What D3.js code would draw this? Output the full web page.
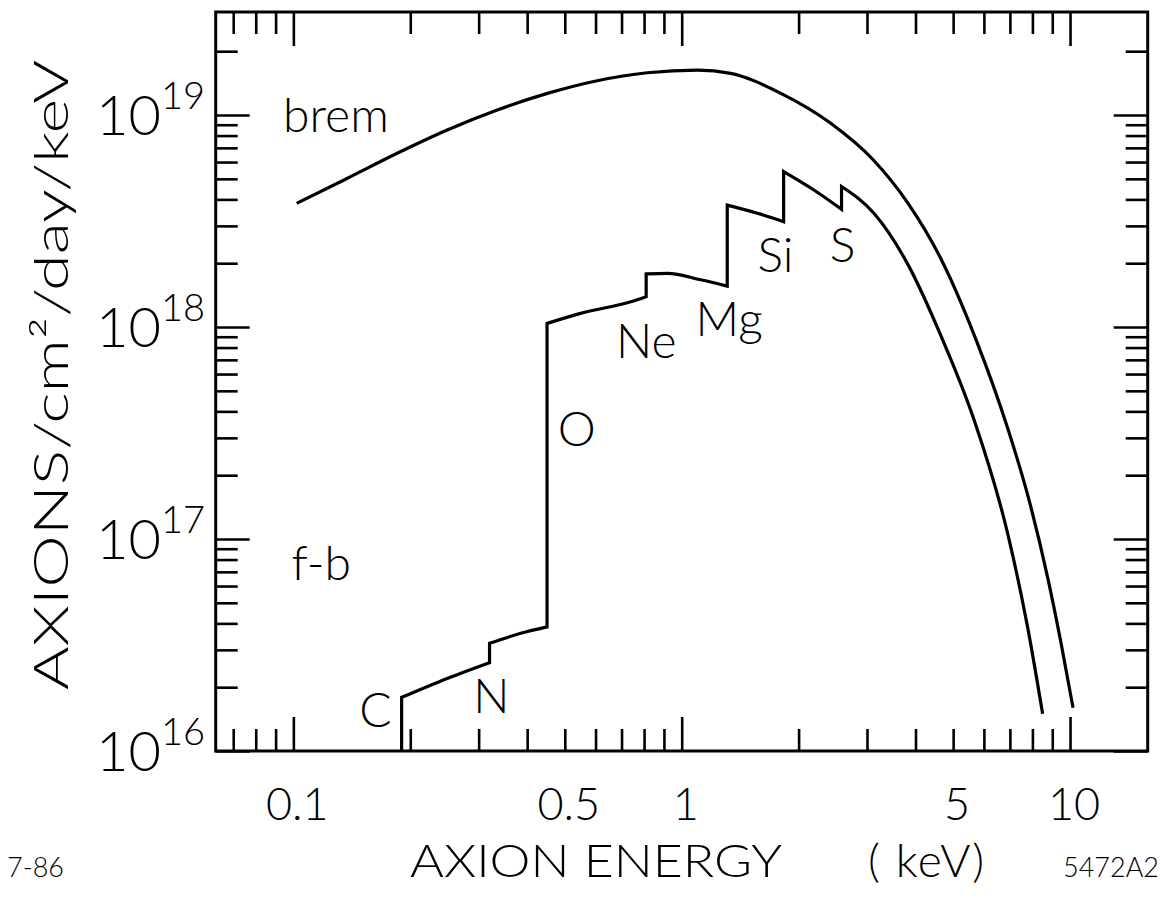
<!DOCTYPE html>
<html><head><meta charset="utf-8">
<script src="https://cdn.jsdelivr.net/npm/d3@7"></script>
<style>
body{margin:0;background:#fff}
text{font-family:Lato,"Open Sans","DejaVu Sans",sans-serif;fill:#000;font-weight:300}
</style>
</head><body>
<svg id="chart" width="1167" height="908"></svg>
<script>
// ---------- data ----------
const xMajor = [0.1, 1, 10];
const xMinor = [0.07,0.08,0.09,0.2,0.3,0.4,0.5,0.6,0.7,0.8,0.9,2,3,4,5,6,7,8,9];
const xLabelValues = [0.1, 0.5, 1, 5, 10];
const xLabelTexts  = ["0.1", "0.5", "1", "5", "10"];
const yMajor = [1e16, 1e17, 1e18, 1e19];
const yMinor = [2e16,3e16,4e16,5e16,6e16,7e16,8e16,9e16,
                2e17,3e17,4e17,5e17,6e17,7e17,8e17,9e17,
                2e18,3e18,4e18,5e18,6e18,7e18,8e18,9e18,2e19];
const yLabelExponents = ["16", "17", "18", "19"];

// bremsstrahlung spectrum [keV, axions/cm2/day/keV]
const brem = [[0.102,3.83e18],[0.1375,5.02e18],[0.185,6.6e18],[0.249,8.5e18],[0.335,1.056e19],
  [0.451,1.265e19],[0.606,1.452e19],[0.816,1.583e19],[1.098,1.63e19],[1.337,1.573e19],
  [1.80,1.265e19],[2.42,9.14e18],[3.125,6.1e18],[3.82,3.85e18],[4.65,2.1e18],[5.66,9.2e17],
  [6.92,3.3e17],[7.80,1.585e17],[8.77,6.5e16],[9.48,3.23e16],[10.18,1.6e16]];

// free-bound spectrum, one smooth piece per absorption edge
const fbStart = [0.19, 1e16];
const fbC  = [[0.19,1.79e16],[0.249,2.2e16],[0.32,2.61e16]];
const fbN  = [[0.32,3.22e16],[0.385,3.59e16],[0.45,3.85e16]];
const fbO  = [[0.45,1.04e18],[0.549,1.16e18],[0.739,1.315e18],[0.81,1.39e18]];
const fbNe = [[0.81,1.78e18],[0.919,1.79e18],[1.119,1.67e18],[1.31,1.56e18]];
const fbMg = [[1.31,3.76e18],[1.567,3.44e18],[1.83,3.14e18]];
const fbSi = [[1.83,5.41e18],[2.19,4.43e18],[2.58,3.59e18]];
const fbS  = [[2.58,4.6e18],[3.13,3.43e18],[3.82,1.98e18],[4.65,9.1e17],[5.66,3.65e17],
              [6.91,1.06e17],[7.78,3.82e16],[8.5,1.5e16]];

// annotation labels anchored in data space [keV, value]
const labelTexts = ["brem","f-b","C","N","O","Ne","Mg","Si","S"];
const labelAnchors = [[0.1287,8.3e18],[0.118,6.4e16],[0.1627,1.30e16],[0.3237,1.51e16],
  [0.537,2.75e17],[0.811,7.14e17],[1.324,9.08e17],[1.744,1.82e18],[2.595,2.03e18]];

// ---------- layout ----------
const L = 215.7, R = 1147.7, T = 12, B = 751;
const svg = d3.select("#chart");
const x = d3.scaleLog().domain([Math.pow(10,-1.2), Math.pow(10,1.2)]).range([L, R]);
const y = d3.scaleLog().domain([1e16, Math.pow(10,19.486)]).range([B, T]);

function styleAxis(g){
  g.select(".domain").remove();
  g.selectAll(".tick line").attr("stroke","#000").attr("stroke-width",2.6);
}
const majLen = 34, minLen = 22;
[[d3.axisBottom, B, xMajor, majLen],[d3.axisBottom, B, xMinor, minLen],
 [d3.axisTop, T, xMajor, majLen],[d3.axisTop, T, xMinor, minLen]].forEach(([f,pos,vals,len])=>{
  svg.append("g").attr("transform",`translate(0,${pos})`)
    .call(f(x).tickValues(vals).tickSize(-len).tickFormat(""))
    .call(styleAxis);
});
[[d3.axisLeft, L, yMajor, majLen],[d3.axisLeft, L, yMinor, minLen],
 [d3.axisRight, R, yMajor, majLen],[d3.axisRight, R, yMinor, minLen]].forEach(([f,pos,vals,len])=>{
  svg.append("g").attr("transform",`translate(${pos},0)`)
    .call(f(y).tickValues(vals).tickSize(-len).tickFormat(""))
    .call(styleAxis);
});

svg.append("rect").attr("x",L).attr("y",T).attr("width",R-L).attr("height",B-T)
  .attr("fill","none").attr("stroke","#000").attr("stroke-width",3);

// x tick labels
svg.append("g").selectAll("text").data(xLabelValues).join("text")
  .attr("x", d=>x(d)+4).attr("y", 820)
  .attr("text-anchor","middle").attr("font-size",45)
  .text((d,i)=>xLabelTexts[i]);

// y tick labels 10^n
yMajor.forEach((v,i)=>{
  const t = svg.append("text").attr("x",205).attr("y",y(v)+20)
    .attr("text-anchor","end").attr("font-size",56);
  t.append("tspan").text("10");
  t.append("tspan").attr("font-size",38).attr("dy",-26).text(yLabelExponents[i]);
});

// axis titles
svg.append("text").attr("x",410).attr("y",877).attr("font-size",46)
  .attr("textLength",372).attr("lengthAdjust","spacingAndGlyphs").text("AXION ENERGY");
svg.append("text").attr("x",868).attr("y",877).attr("font-size",46)
  .attr("textLength",116).attr("lengthAdjust","spacing").text("( keV)");
svg.append("text").attr("transform","translate(68,690) rotate(-90)")
  .attr("font-size",48).attr("textLength",630).attr("lengthAdjust","spacingAndGlyphs")
  .text("AXIONS/cm²/day/keV");

svg.append("text").attr("x",7).attr("y",877).attr("font-size",27).attr("font-weight",400).text("7-86");
svg.append("text").attr("x",1159).attr("y",877).attr("font-size",27).attr("font-weight",400)
  .attr("text-anchor","end").text("5472A2");

// curves
const line = d3.line().x(d=>x(d[0])).y(d=>y(d[1])).curve(d3.curveMonotoneX);
svg.append("path").attr("d", line(brem)).attr("fill","none")
  .attr("stroke","#000").attr("stroke-width",3.2).attr("stroke-linejoin","round");

const fbPieces = [fbC, fbN, fbO, fbNe, fbMg, fbSi, fbS];
const fbPath = `M${x(fbStart[0])},${y(fbStart[1])}` +
  fbPieces.map(p=>line(p).replace(/^M/,"L")).join("");
svg.append("path").attr("d", fbPath).attr("fill","none")
  .attr("stroke","#000").attr("stroke-width",3.2).attr("stroke-linejoin","miter");

// element / component labels
svg.append("g").selectAll("text").data(labelAnchors).join("text")
  .attr("x", d=>x(d[0])).attr("y", d=>y(d[1]))
  .attr("text-anchor","middle").attr("font-size",48)
  .text((d,i)=>labelTexts[i]);
</script>
</body></html>
